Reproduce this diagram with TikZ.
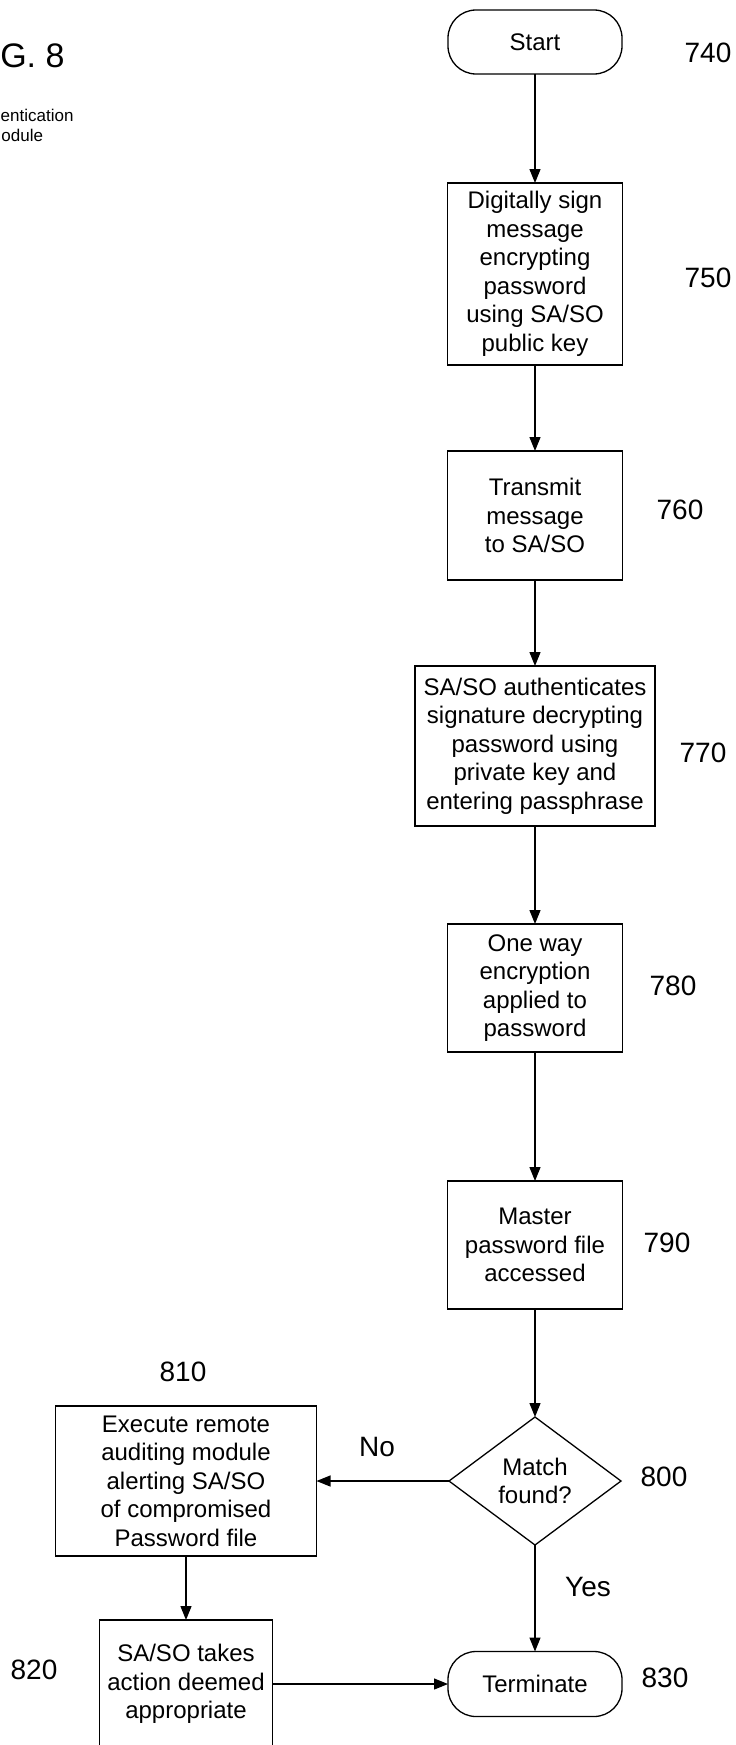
\documentclass[tikz,border=0pt]{standalone}
\usepackage{fontspec}
\setmainfont{Liberation Sans}
\usetikzlibrary{arrows.meta,shapes.geometric}
\newcommand\bxfont{\fontsize{24}{28.5}\selectfont}
\newcommand\lbfont{\fontsize{28}{32}\selectfont}
\begin{document}
\begin{tikzpicture}[x=1pt,y=-1pt,
  every node/.style={inner sep=0pt, outer sep=0pt},
  proc/.style 2 args={draw, line width=1.3pt, align=center, font=\bxfont,
    minimum width=#1, minimum height=#2},
  termbox/.style={proc={174pt}{64pt}, rounded corners=28pt},
  decis/.style={draw, line width=1.3pt, shape=diamond, align=center, font=\bxfont,
    minimum width=172pt, minimum height=128pt},
  lbl/.style={font=\lbfont},
  headsmall/.style={anchor=base east, font=\fontsize{17}{20}\selectfont},
  arr/.style={-{Triangle[length=14pt,width=11pt]}, line width=1.3pt}]
\clip (0,0) rectangle (736,1745);
\fill[white] (0,0) rectangle (736,1745);

% heading (cut off at left edge)
\node[anchor=base east, font=\fontsize{34}{38}\selectfont] (fig) at (64.5,67) {FIG. 8};
\node[headsmall] (auth1) at (73.5,121.5) {Authentication};
\node[headsmall] (auth2) at (43,141.5) {Module};

% main column
\node[termbox] (start) at (535,42) {Start};
\node[proc={175pt}{182pt}] (b750) at (535,274) {Digitally sign\\message\\encrypting\\password\\using SA/SO\\public key};
\node[proc={175pt}{129pt}] (b760) at (535,515.5) {Transmit\\message\\to SA/SO};
\node[proc={240pt}{160pt}] (b770) at (535,746) {SA/SO authenticates\\signature decrypting\\password using\\private key and\\entering passphrase};
\node[proc={175pt}{128pt}] (b780) at (535,988) {One way\\encryption\\applied to\\password};
\node[proc={175pt}{128pt}] (b790) at (535,1245) {Master\\password file\\accessed};
\node[decis] (d800) at (535,1481) {Match\\found?};
\node[termbox, minimum height=65pt] (term) at (535,1684) {Terminate};

% left column
\node[proc={261pt}{150pt}] (b810) at (186,1481) {Execute remote\\auditing module\\alerting SA/SO\\of compromised\\Password file};
\node[proc={173pt}{128pt}] (b820) at (186,1684) {SA/SO takes\\action deemed\\appropriate};

% reference numerals
\node[lbl] (n740) at (708,53) {740};
\node[lbl] (n750) at (708,278) {750};
\node[lbl] (n760) at (680,510) {760};
\node[lbl] (n770) at (703,753) {770};
\node[lbl] (n780) at (673,986) {780};
\node[lbl] (n790) at (667,1243) {790};
\node[lbl] (n800) at (664,1477) {800};
\node[lbl] (n810) at (183,1372) {810};
\node[lbl] (n820) at (34,1670) {820};
\node[lbl] (n830) at (665,1678) {830};
\node[lbl] (no) at (377,1447) {No};
\node[lbl] (yes) at (588,1587) {Yes};

% connectors
\draw[arr] (start) -- (b750);
\draw[arr] (b750) -- (b760);
\draw[arr] (b760) -- (b770);
\draw[arr] (b770) -- (b780);
\draw[arr] (b780) -- (b790);
\draw[arr] (b790) -- (d800);
\draw[arr] (d800) -- (b810);
\draw[arr] (d800) -- (term);
\draw[arr] (b810) -- (b820);
\draw[arr] (b820) -- (term);
\end{tikzpicture}
\end{document}
